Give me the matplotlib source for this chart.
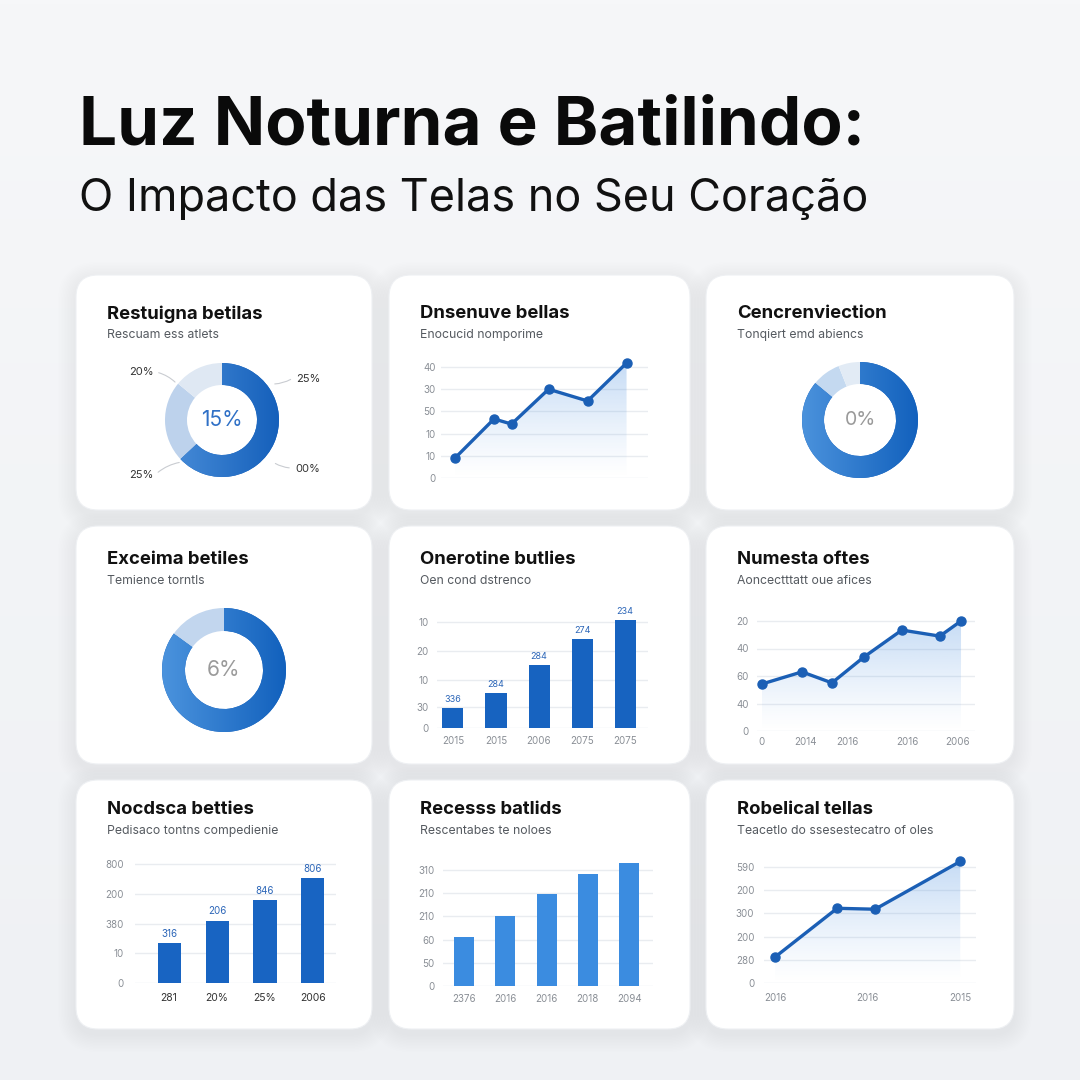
import numpy as np
import matplotlib
matplotlib.use("Agg")
import matplotlib.pyplot as plt
from matplotlib.patches import FancyBboxPatch, Polygon
from matplotlib.colors import to_rgb

# ---- text ----
TITLE = "Luz Noturna e Batilindo:"
SUBTITLE = "O Impacto das Telas no Seu Coração"
CARD_TITLES = ["Restuigna betilas", "Dnsenuve bellas", "Cencrenviection",
               "Exceima betiles", "Onerotine butlies", "Numesta oftes",
               "Nocdsca betties", "Recesss batlids", "Robelical tellas"]
CARD_SUBTITLES = ["Rescuam ess atlets", "Enocucid nomporime", "Tonqiert emd abiencs",
                  "Temience torntls", "Oen cond dstrenco", "Aoncectttatt oue afices",
                  "Pedisaco tontns compedienie", "Rescentabes te noloes",
                  "Teacetlo do ssesestecatro of oles"]

# ---- donuts ----
DONUT1_SHARES = [63, 23, 14]
DONUT1_CENTER = "15%"
DONUT1_LABELS = ["20%", "25%", "00%", "25%"]
DONUT3_SHARES = [86, 8, 6]
DONUT3_CENTER = "0%"
DONUT4_SHARES = [85, 15]
DONUT4_CENTER = "6%"

# ---- line charts ----
LINE2_X = [0, 1, 1.45, 2.4, 3.4, 4.4]
LINE2_Y = [9, 26.6, 24.3, 40, 34.7, 51.8]
LINE2_YTICKS = [0, 10, 20, 30, 40, 50]
LINE2_YTICKLABELS = ["0", "10", "10", "50", "30", "40"]

LINE6_X = [0, 1.0, 1.75, 2.55, 3.5, 4.45, 4.98]
LINE6_Y = [17.1, 21.5, 17.5, 26.9, 36.7, 34.5, 40]
LINE6_YTICKS = [0, 10, 20, 30, 40]
LINE6_YTICKLABELS = ["0", "40", "60", "40", "20"]
LINE6_XTICKS = [0, 1.08, 2.13, 3.63, 4.9]
LINE6_XTICKLABELS = ["0", "2014", "2016", "2016", "2006"]

LINE9_X = [0, 0.67, 1.08, 2]
LINE9_Y = [11.2, 32.2, 31.8, 52.4]
LINE9_YTICKS = [0, 10, 20, 30, 40, 50]
LINE9_YTICKLABELS = ["0", "280", "200", "300", "200", "590"]
LINE9_XTICKS = [0, 1, 2]
LINE9_XTICKLABELS = ["2016", "2016", "2015"]

# ---- bar charts ----
BAR5_CATS = ["2015", "2015", "2006", "2075", "2075"]
BAR5_VALUES = [7.5, 13.2, 23.8, 33.6, 40.8]
BAR5_LABELS = ["336", "284", "284", "274", "234"]
BAR5_YTICKS = [0, 8, 18, 29, 40]
BAR5_YTICKLABELS = ["0", "30", "10", "20", "10"]

BAR7_CATS = ["281", "20%", "25%", "2006"]
BAR7_VALUES = [13.3, 21, 28, 35.3]
BAR7_LABELS = ["316", "206", "846", "806"]
BAR7_YTICKS = [0, 10, 20, 30, 40]
BAR7_YTICKLABELS = ["0", "10", "380", "200", "800"]

BAR8_CATS = ["2376", "2016", "2016", "2018", "2094"]
BAR8_VALUES = [21, 30, 39.7, 48.3, 53]
BAR8_YTICKS = [0, 10, 20, 30, 40, 50]
BAR8_YTICKLABELS = ["0", "50", "60", "210", "210", "310"]

# ---- style ----
plt.rcParams['font.family'] = ['Inter', 'DejaVu Sans']
W = H = 1080
LINE_BLUE = "#1b5fb5"
TICK_C = "#8a8f96"
GRID_C = "#e9ecf0"

fig = plt.figure(figsize=(10.8, 10.8), dpi=100)
bg = fig.add_axes([0, 0, 1, 1])
bg.set_xlim(0, W)
bg.set_ylim(H, 0)
bg.axis('off')
grad = np.linspace(0, 1, 256)[:, None]
top, bot = np.array(to_rgb("#f6f7f9")), np.array(to_rgb("#eff1f4"))
bg.imshow(top + (bot - top) * grad[..., None], extent=[0, W, H, 0], aspect='auto', zorder=0)

bg.text(79, 127, TITLE, fontsize=48.5, fontweight='bold', va='center', ha='left', color='#0a0a0a')
bg.text(79, 199, SUBTITLE, fontsize=32.4, va='center', ha='left', color='#111111')

CARDS = [(76, 275, 372, 510), (389, 275, 690, 510), (706, 275, 1014, 510),
         (76, 526, 372, 764), (389, 526, 690, 764), (706, 526, 1014, 764),
         (76, 780, 372, 1029), (389, 780, 690, 1029), (706, 780, 1014, 1029)]
TITLE_Y = [314, 314, 314, 560, 560, 560, 810, 810, 810]

for i, (x0, y0, x1, y1) in enumerate(CARDS):
    for k in range(12, 0, -1):
        e = k * 1.5
        bg.add_patch(FancyBboxPatch((x0 - e, y0 - e + 5), x1 - x0 + 2 * e, y1 - y0 + 2 * e,
                                    boxstyle=f"round,pad=0,rounding_size={22 + e}",
                                    fc='#9099a6', ec='none', alpha=0.009, zorder=1))
    bg.add_patch(FancyBboxPatch((x0, y0), x1 - x0, y1 - y0,
                                boxstyle="round,pad=0,rounding_size=22",
                                fc='white', ec='#eef0f3', lw=0.8, zorder=2))
    bg.text(x0 + 31, TITLE_Y[i], CARD_TITLES[i], fontsize=13.3, fontweight='bold',
            va='center', ha='left', color='#111111', zorder=3)
    bg.text(x0 + 31, TITLE_Y[i] + 21, CARD_SUBTITLES[i], fontsize=8.8,
            va='center', ha='left', color='#555a60', zorder=3)


def px_axes(xl, xr, ybot, ytop):
    return fig.add_axes([xl / W, 1 - ybot / H, (xr - xl) / W, (ybot - ytop) / H])


def chart_axes(xl, xr, base, top_tick, vmax, xlim, top_pad=18):
    ax = px_axes(xl, xr, base, top_tick - top_pad)
    ppu = (base - top_tick) / vmax
    ax.set_ylim(0, vmax + top_pad / ppu)
    ax.set_xlim(*xlim)
    for s in ax.spines.values():
        s.set_visible(False)
    ax.set_facecolor('none')
    ax.tick_params(length=0, labelsize=7, labelcolor=TICK_C)
    return ax


def style_y(ax, ticks, labels, pad):
    ax.set_yticks(ticks, labels)
    ax.tick_params(axis='y', pad=pad)
    for t in ticks:
        ax.axhline(t, color=GRID_C, lw=1, zorder=0)


def gradient_fill(ax, x, y, color, alpha_top):
    verts = [(x[0], 0)] + list(zip(x, y)) + [(x[-1], 0)]
    patch = Polygon(verts, closed=True, fc='none', ec='none')
    ax.add_patch(patch)
    g = np.zeros((200, 1, 4))
    g[..., :3] = to_rgb(color)
    g[:, 0, 3] = np.linspace(alpha_top, 0.0, 200) ** 1.2
    im = ax.imshow(g, aspect='auto', extent=[min(x), max(x), 0, max(y)],
                   origin='upper', zorder=1)
    im.set_clip_path(patch)


def line_chart(ax, x, y, xlim, ylim):
    gradient_fill(ax, x, y, "#4a8fe0", 0.38)
    ax.plot(x, y, color=LINE_BLUE, lw=2.4, marker='o', ms=6.5, zorder=3,
            clip_on=False, solid_joinstyle='round')
    ax.set_xlim(*xlim)
    ax.set_ylim(*ylim)


def donut(cx, cy, r_out, r_in, shares, colors, grad_cols):
    ax = px_axes(cx - r_out, cx + r_out, cy + r_out, cy - r_out)
    ax.set_facecolor('none')
    wedges, _ = ax.pie(shares, colors=colors, startangle=90, counterclock=False,
                       radius=1, wedgeprops=dict(width=(r_out - r_in) / r_out, lw=0))
    g = np.zeros((1, 256, 3))
    c0, c1 = np.array(to_rgb(grad_cols[0])), np.array(to_rgb(grad_cols[1]))
    g[0] = c0 + (c1 - c0) * np.linspace(0, 1, 256)[:, None]
    im = ax.imshow(g, extent=[-1, 1, -1, 1], aspect='auto', zorder=2)
    im.set_clip_path(wedges[0])
    ax.set_xlim(-1, 1)
    ax.set_ylim(-1, 1)
    ax.set_aspect('equal')
    ax.axis('off')
    return ax


# ---- card 1: donut with labels ----
a1 = donut(222, 420, 57, 35, DONUT1_SHARES, ["#1a63bd", "#bdd2ec", "#dfe8f3"],
           ["#4a8ed9", "#1560bb"])
a1.text(0, 0, DONUT1_CENTER, ha='center', va='center', fontsize=15, color='#2f70c6')
D1_LABEL_POS = [(141, 372), (308, 379), (308, 469), (141, 475)]
D1_LINE_FROM = [(156, 372), (293, 378), (292, 468), (156, 474)]
D1_LINE_TO = [(177, 384), (272, 384), (273, 462), (182, 462)]
for lab, p, f, t in zip(DONUT1_LABELS, D1_LABEL_POS, D1_LINE_FROM, D1_LINE_TO):
    bg.text(p[0], p[1], lab, fontsize=8, color='#333333', ha='center', va='center', zorder=4)
    bg.annotate("", xy=t, xytext=f, zorder=4,
                arrowprops=dict(arrowstyle='-', color='#c9ccd1', lw=0.8,
                                connectionstyle="arc3,rad=-0.15"))

# ---- card 2: line ----
a2 = chart_axes(441, 648, 478, 367, 50, (-0.36, 4.95))
style_y(a2, LINE2_YTICKS, LINE2_YTICKLABELS, 4)
a2.set_xticks([])
line_chart(a2, LINE2_X, LINE2_Y, (-0.36, 4.95), a2.get_ylim())

# ---- card 3: donut ----
a3 = donut(860, 420, 58, 36, DONUT3_SHARES, ["#1a63bd", "#c4d9f0", "#e2ebf5"],
           ["#4b92dc", "#1261bd"])
a3.text(0, 0, DONUT3_CENTER, ha='center', va='center', fontsize=14, color='#9a9a9a')

# ---- card 4: donut ----
a4 = donut(224, 670, 62, 39, DONUT4_SHARES, ["#1a63bd", "#c2d6ee"],
           ["#4b93dd", "#1261bd"])
a4.text(0, 0, DONUT4_CENTER, ha='center', va='center', fontsize=15, color='#9a9a9a')

# ---- card 5: bars ----
a5 = chart_axes(437, 648, 728, 622, 40, (-0.37, 4.53))
style_y(a5, BAR5_YTICKS, BAR5_YTICKLABELS, 6)
x5 = np.arange(len(BAR5_CATS))
b5 = a5.bar(x5, BAR5_VALUES, width=0.49, color="#1763c0", zorder=2)
a5.bar_label(b5, BAR5_LABELS, padding=3, fontsize=6.5, color='#2c66b8')
a5.set_xticks(x5, BAR5_CATS)
a5.tick_params(axis='x', pad=6)

# ---- card 6: line ----
a6 = chart_axes(757, 975, 731, 621, 40, (-0.125, 5.33))
style_y(a6, LINE6_YTICKS, LINE6_YTICKLABELS, 6)
a6.set_xticks(LINE6_XTICKS, LINE6_XTICKLABELS)
a6.tick_params(axis='x', pad=4)
line_chart(a6, LINE6_X, LINE6_Y, (-0.125, 5.33), a6.get_ylim())

# ---- card 7: bars ----
a7 = chart_axes(135, 336, 983, 864, 40, (-0.71, 3.48))
style_y(a7, BAR7_YTICKS, BAR7_YTICKLABELS, 8)
x7 = np.arange(len(BAR7_CATS))
b7 = a7.bar(x7, BAR7_VALUES, width=0.48, color="#1864c2", zorder=2)
a7.bar_label(b7, BAR7_LABELS, padding=3, fontsize=7, color='#2c66b8')
a7.set_xticks(x7, BAR7_CATS)
a7.tick_params(axis='x', pad=7, labelsize=7.5, labelcolor='#333333')

# ---- card 8: bars ----
a8 = chart_axes(443, 653, 986, 870, 50, (-0.51, 4.58))
style_y(a8, BAR8_YTICKS, BAR8_YTICKLABELS, 6)
x8 = np.arange(len(BAR8_CATS))
a8.bar(x8, BAR8_VALUES, width=0.485, color="#3b8ce0", zorder=2)
a8.set_xticks(x8, BAR8_CATS)
a8.tick_params(axis='x', pad=6)

# ---- card 9: line ----
a9 = chart_axes(764, 976, 983, 867, 50, (-0.12, 2.17))
style_y(a9, LINE9_YTICKS, LINE9_YTICKLABELS, 7)
a9.set_xticks(LINE9_XTICKS, LINE9_XTICKLABELS)
a9.tick_params(axis='x', pad=7)
line_chart(a9, LINE9_X, LINE9_Y, (-0.12, 2.17), a9.get_ylim())

fig.savefig("out.png", dpi=100)
